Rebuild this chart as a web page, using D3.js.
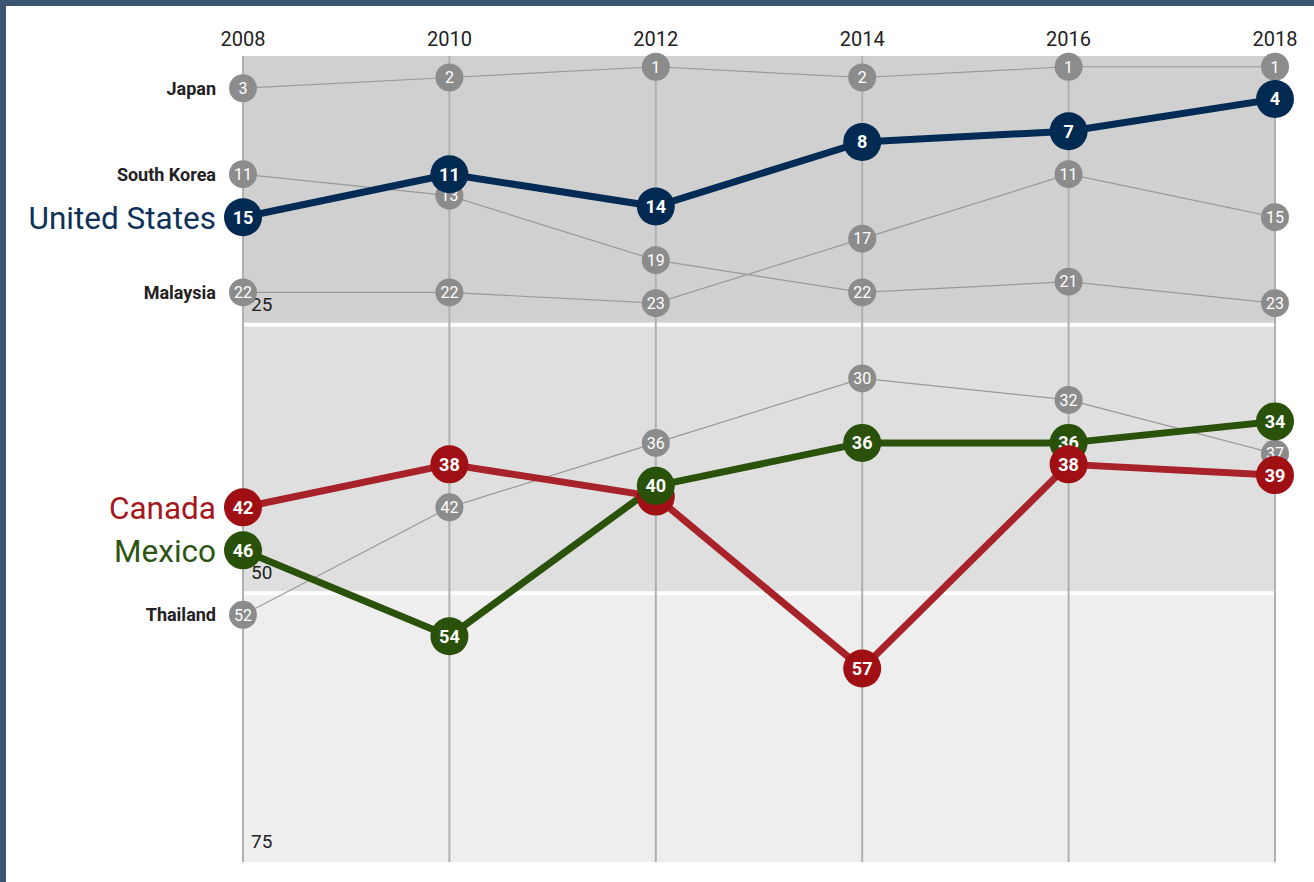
<!DOCTYPE html>
<html>
<head>
<meta charset="utf-8">
<script src="https://cdn.jsdelivr.net/npm/d3@7"></script>
<style>
  html, body { margin: 0; padding: 0; background: #fff; }
  body {
    width: 1308px; height: 876px;
    border-top: 6px solid #3b5670;
    border-left: 6px solid #3b5670;
    overflow: hidden;
    font-family: Roboto, "Noto Sans", sans-serif;
  }
  svg { display: block; }
</style>
</head>
<body>
<svg id="chart"></svg>
<script>
// ranks per year
const years = [2008, 2010, 2012, 2014, 2016, 2018];
const japan = [3, 2, 1, 2, 1, 1];
const southKorea = [11, 13, 19, 22, 21, 23];
const malaysia = [22, 22, 23, 17, 11, 15];
const thailand = [52, 42, 36, 30, 32, 37];
const unitedStates = [15, 11, 14, 8, 7, 4];
const canada = [42, 38, 41, 57, 38, 39];
const mexico = [46, 54, 40, 36, 36, 34];
const bandBreaks = [25, 50, 75];

const grayGroups = [
  {name: "Japan", ranks: japan},
  {name: "South Korea", ranks: southKorea},
  {name: "Malaysia", ranks: malaysia},
  {name: "Thailand", ranks: thailand}
];
const mainGroups = [
  {name: "United States", ranks: unitedStates, line: "#022b55", dot: "#012a52", label: "#0d3158"},
  {name: "Mexico", ranks: mexico, line: "#2b520b", dot: "#2a510a", label: "#2d5410"},
  {name: "Canada", ranks: canada, line: "#a8222a", dot: "#a00f14", label: "#a5171c"}
];

const bandColors = ["#d0d0d0", "#dfdfdf", "#eeeeee"];
const gridColor = "#b0b0b0";
const grayDot = "#8c8c8c";

const width = 1308, height = 876;
const offX = -6, offY = -6; // page is shifted by the border

const svg = d3.select("#chart").attr("width", width).attr("height", height);
const g = svg.append("g").attr("transform", `translate(${offX}, ${offY})`);

const xScale = d3.scalePoint().domain(years).range([243, 1275]);
const yScale = d3.scaleLinear().domain([0, 75]).range([56, 862]);

//bands
const bandEdges = [0, ...bandBreaks];
g.selectAll(".band")
  .data(bandBreaks)
  .enter()
  .append("rect")
  .attr("class", "band")
  .attr("x", xScale(years[0]))
  .attr("width", xScale(years[years.length - 1]) - xScale(years[0]))
  .attr("y", (d, i) => yScale(bandEdges[i]))
  .attr("height", (d, i) => yScale(d) - yScale(bandEdges[i]))
  .style("fill", (d, i) => bandColors[i]);

g.selectAll(".band-sep")
  .data(bandBreaks.slice(0, 2))
  .enter()
  .append("line")
  .attr("x1", xScale(years[0]))
  .attr("x2", xScale(years[years.length - 1]))
  .attr("y1", d => yScale(d))
  .attr("y2", d => yScale(d))
  .style("stroke", "white")
  .style("stroke-width", 4);

//vertical grid
g.selectAll(".grid")
  .data(years)
  .enter()
  .append("line")
  .attr("x1", d => xScale(d))
  .attr("x2", d => xScale(d))
  .attr("y1", yScale(0))
  .attr("y2", yScale(75))
  .style("stroke", gridColor)
  .style("stroke-width", 2);

//year labels
g.selectAll(".year")
  .data(years)
  .enter()
  .append("text")
  .attr("x", d => xScale(d))
  .attr("y", 46)
  .attr("text-anchor", "middle")
  .style("font-size", "20px")
  .style("fill", "#222")
  .text(d => d);

//rank labels
g.selectAll(".rank-label")
  .data(bandBreaks)
  .enter()
  .append("text")
  .attr("x", xScale(years[0]) + 8)
  .attr("y", d => yScale(d) - 14)
  .style("font-size", "19px")
  .style("fill", "#222")
  .text(d => d);

const lineGen = d3.line()
  .x((d, i) => xScale(years[i]))
  .y(d => yScale(d));

//gray series
grayGroups.forEach(grp => {
  g.append("path")
    .datum(grp.ranks)
    .attr("d", lineGen)
    .style("fill", "none")
    .style("stroke", "#999")
    .style("stroke-width", 1.2);
});

grayGroups.forEach(grp => {
  const dots = g.append("g").selectAll("g")
    .data(grp.ranks)
    .enter()
    .append("g")
    .attr("transform", (d, i) => `translate(${xScale(years[i])}, ${yScale(d)})`);
  dots.append("circle")
    .attr("r", 14)
    .style("fill", grayDot);
  dots.append("text")
    .attr("text-anchor", "middle")
    .attr("dy", "0.36em")
    .style("font-size", "16px")
    .style("fill", "white")
    .text(d => d);

  g.append("text")
    .attr("x", 216)
    .attr("y", yScale(grp.ranks[0]))
    .attr("dy", "0.36em")
    .attr("text-anchor", "end")
    .style("font-size", "18px")
    .style("font-weight", "bold")
    .style("fill", "#222")
    .text(grp.name);
});

//highlighted series
mainGroups.forEach(grp => {
  g.append("path")
    .datum(grp.ranks)
    .attr("d", lineGen)
    .style("fill", "none")
    .style("stroke", grp.line)
    .style("stroke-width", 7)
    .style("stroke-linejoin", "round");
});

const mainDots = [];
mainGroups.forEach(grp => {
  grp.ranks.forEach((r, i) => mainDots.push({grp, r, i}));
});
// Mexico's 2012 dot sits on top of Canada's
const raised = mainDots.filter(d => d.grp.name === "Mexico" && years[d.i] === 2012);
const drawOrder = mainDots.filter(d => !raised.includes(d)).concat(raised);

const md = g.append("g").selectAll("g")
  .data(drawOrder)
  .enter()
  .append("g")
  .attr("transform", d => `translate(${xScale(years[d.i])}, ${yScale(d.r)})`);
md.append("circle")
  .attr("r", 19)
  .style("fill", d => d.grp.dot);
md.append("text")
  .attr("text-anchor", "middle")
  .attr("dy", "0.36em")
  .style("font-size", "18px")
  .style("font-weight", "bold")
  .style("fill", "white")
  .text(d => d.r);

g.selectAll(".main-label")
  .data(mainGroups)
  .enter()
  .append("text")
  .attr("x", 216)
  .attr("y", d => yScale(d.ranks[0]))
  .attr("dy", "0.36em")
  .attr("text-anchor", "end")
  .style("font-size", "31.5px")
  .style("fill", d => d.label)
  .text(d => d.name);
</script>
</body>
</html>
